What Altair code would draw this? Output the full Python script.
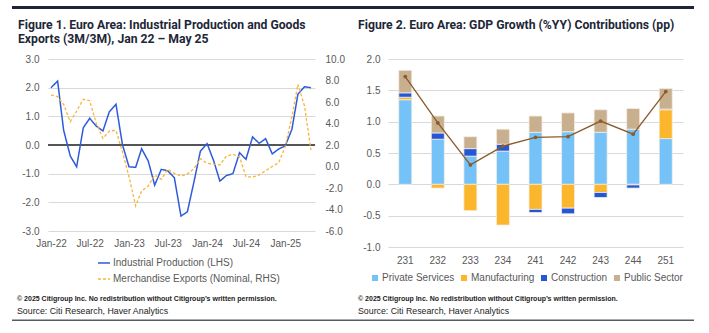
import altair as alt
import pandas as pd

# ---------------- data ----------------
months = pd.date_range("2022-01-01", "2025-05-01", freq="MS")

industrial_production = [
    2.0, 2.23, 0.52, -0.38, -0.76, 0.6, 0.93, 0.66, 0.49, 1.16, 1.42, 0.02,
    -0.76, -0.78, -0.13, -0.56, -1.4, -0.85, -0.9, -1.14, -2.48, -2.33, -1.28, -0.21,
    0.05, -0.55, -1.26, -1.06, -1.0, -0.27, -0.5, 0.28, 0.06, 0.22, -0.31, -0.14,
    -0.03, 0.55, 1.77, 2.03, 2.0,
]
merchandise_exports = [
    6.65, 6.5, 5.78, 4.17, 5.16, 6.25, 6.12, 4.0, 2.62, 3.3, 3.36, 1.38,
    -0.95, -3.67, -2.28, -1.81, -0.79, -1.19, -0.26, -0.64, -0.88, -0.7, -0.2, 0.73,
    0.29, 0.23, 0.14, 0.98, 1.13, 0.91, -0.95, -0.98, -0.79, -0.39, 0.0, 0.36,
    1.85, 4.64, 7.64, 5.63, 1.53,
]
IP_NAME = "Industrial Production (LHS)"
EX_NAME = "Merchandise Exports (Nominal, RHS)"

lhs_ticks = [-3, -2, -1, 0, 1, 2, 3]
rhs_ticks = [-6, -4, -2, 0, 2, 4, 6, 8, 10]
x_tick_dates = [(2022, 1), (2022, 7), (2023, 1), (2023, 7), (2024, 1), (2024, 7), (2025, 1)]

quarters = ["231", "232", "233", "234", "241", "242", "243", "244", "251"]
components = ["Private Services", "Manufacturing", "Construction", "Public Sector"]
private_services = [1.35, 0.72, 0.45, 0.53, 0.83, 0.84, 0.83, 0.88, 0.73]
manufacturing = [0.04, -0.06, -0.42, -0.65, -0.40, -0.38, -0.13, -0.01, 0.46]
construction = [0.07, 0.10, 0.12, 0.11, -0.05, -0.09, -0.08, -0.05, 0.01]
public_sector = [0.36, 0.27, 0.19, 0.24, 0.26, 0.30, 0.36, 0.33, 0.33]
gdp_growth = [1.72, 0.98, 0.31, 0.61, 0.75, 0.76, 1.01, 0.80, 1.48]
gdp_ticks = [-1.0, -0.5, 0.0, 0.5, 1.0, 1.5, 2.0]

TITLE1_A = "Figure 1. Euro Area: Industrial Production and Goods"
TITLE1_B = "Exports (3M/3M), Jan 22 \u2013 May 25"
TITLE2 = "Figure 2. Euro Area: GDP Growth (%YY) Contributions (pp)"
COPYRIGHT = "\u00a9 2025 Citigroup Inc. No redistribution without Citigroup\u2019s written permission."
SOURCE = "Source: Citi Research, Haver Analytics"

# ---------------- styles ----------------
FONT = "'Liberation Sans', Arial, sans-serif"
TITLE_FONT = "Roboto, 'Open Sans', sans-serif"
LABEL_COLOR = "#595959"
TITLE_COLOR = "#1d2738"
BLUE = "#2E5BDB"
ORANGE = "#F7B53B"
NEG_EXPR = "(datum.value < 0 ? '-' : '') + format(abs(datum.value), '.1f')"
LBL = 10


def text_layer(txt, x, y, size, weight="normal", color="#1a1a1a", font=FONT):
    return alt.Chart(pd.DataFrame({"t": [txt]})).mark_text(
        align="left", baseline="alphabetic", fontSize=size, fontWeight=weight,
        color=color, font=font
    ).encode(text="t:N", x=alt.value(x), y=alt.value(y))


def band(x1, x2, y1, y2, color):
    return alt.Chart(pd.DataFrame({"a": [0]})).mark_rect(color=color).encode(
        x=alt.value(x1), x2=alt.value(x2), y=alt.value(y1), y2=alt.value(y2)
    )


# ---------------- left panel ----------------
df_ip = pd.DataFrame({"month": months, "value": industrial_production, "series": IP_NAME})
df_ex = pd.DataFrame({"month": months, "value": merchandise_exports, "series": EX_NAME})

color_scale = alt.Scale(domain=[IP_NAME, EX_NAME], range=[BLUE, ORANGE])
dash_scale = alt.Scale(domain=[IP_NAME, EX_NAME], range=[[1, 0], [3, 2]])
legend_left = alt.Legend(
    title=None, orient="none", legendX=49, legendY=197, symbolType="stroke",
    symbolSize=144, symbolStrokeWidth=1.5, labelFont=FONT, labelFontSize=LBL,
    labelColor=LABEL_COLOR, labelOffset=2, rowPadding=4, labelLimit=300,
)

x_left = alt.X(
    "month:T",
    scale=alt.Scale(domain=[alt.DateTime(year=2021, month=12, date=18),
                            alt.DateTime(year=2025, month=5, date=20)]),
    axis=alt.Axis(title=None, values=[alt.DateTime(year=y, month=m, date=1) for y, m in x_tick_dates],
                  format="%b-%y", labelPadding=7, grid=False, labelOverlap=False),
)
y_lhs = alt.Y("value:Q", scale=alt.Scale(domain=[-3, 3], nice=False),
              axis=alt.Axis(title=None, orient="left", values=lhs_ticks, labelExpr=NEG_EXPR,
                            grid=True, labelPadding=9, labelOverlap=False))
y_rhs = alt.Y("value:Q", scale=alt.Scale(domain=[-6, 10], nice=False),
              axis=alt.Axis(title=None, orient="right", values=rhs_ticks, labelExpr=NEG_EXPR,
                            grid=False, labelPadding=10, labelOverlap=False))

zero_line = alt.Chart(pd.DataFrame({"value": [0]})).mark_rule(color="#555555", strokeWidth=2).encode(y=y_lhs)
ip_line = alt.Chart(df_ip).mark_line(strokeWidth=1.5).encode(
    x=x_left, y=y_lhs,
    color=alt.Color("series:N", scale=color_scale, legend=legend_left),
    strokeDash=alt.StrokeDash("series:N", scale=dash_scale, legend=legend_left),
)
ex_line = alt.Chart(df_ex).mark_line(strokeWidth=1.3).encode(
    x=x_left, y=y_rhs,
    color=alt.Color("series:N", scale=color_scale, legend=legend_left),
    strokeDash=alt.StrokeDash("series:N", scale=dash_scale, legend=legend_left),
)

left = alt.layer(
    band(-36, 304, -53, -50, "#1d2538"),
    band(-36, 304, 260.5, 262, "#555a64"),
    text_layer(TITLE1_A, -30, -30, 12.2, "bold", TITLE_COLOR, TITLE_FONT),
    text_layer(TITLE1_B, -30, -16, 12.2, "bold", TITLE_COLOR, TITLE_FONT),
    text_layer(COPYRIGHT, -31, 242, 7.0, "bold", "#222222"),
    text_layer(SOURCE, -31, 255, 8.8, "normal", "#222222"),
    alt.layer(zero_line, ip_line),
    ex_line,
).resolve_scale(y="independent").properties(width=267, height=172)

# ---------------- right panel ----------------
rows = []
for i, q in enumerate(quarters):
    for k, (name, vals) in enumerate(zip(components, [private_services, manufacturing, construction, public_sector])):
        rows.append({"quarter": q, "component": name, "value": vals[i], "k": k})
df_bars = pd.DataFrame(rows)
df_gdp = pd.DataFrame({"quarter": quarters, "value": gdp_growth})

legend_right = alt.Legend(
    title=None, orient="none", direction="horizontal", legendX=-18, legendY=214,
    symbolType="square", symbolSize=36, symbolStrokeWidth=0, labelFont=FONT,
    labelFontSize=LBL, labelColor=LABEL_COLOR, labelOffset=2, columnPadding=4, labelLimit=200,
)
x_right = alt.X("quarter:N", sort=quarters,
                scale=alt.Scale(paddingInner=0, paddingOuter=0.03),
                axis=alt.Axis(title=None, labelAngle=0, labelPadding=8, grid=False, labelOverlap=False))
right_scale = alt.Scale(domain=[-1, 2], nice=False)
right_axis = alt.Axis(title=None, values=gdp_ticks, labelExpr=NEG_EXPR, grid=True,
                      labelPadding=8, labelOverlap=False)

bars = alt.Chart(df_bars).mark_bar(size=13, stroke="#F4EEE4", strokeWidth=0.8).encode(
    x=x_right,
    y=alt.Y("value:Q", stack="zero", scale=right_scale, axis=right_axis),
    color=alt.Color("component:N", scale=alt.Scale(domain=components,
                    range=["#74C2F8", "#FBB62B", "#2456D6", "#C8AF8E"]), legend=legend_right),
    order=alt.Order("k:Q"),
)
gdp_line = alt.Chart(df_gdp).mark_line(color="#8B5A2B", strokeWidth=1.3).encode(
    x=x_right, y=alt.Y("value:Q", scale=right_scale, axis=right_axis))
gdp_pts = alt.Chart(df_gdp).mark_circle(color="#8B5A2B", size=14, opacity=1).encode(
    x=x_right, y=alt.Y("value:Q", scale=right_scale, axis=right_axis))

right = alt.layer(
    band(-36, 306, -53, -50, "#1d2538"),
    band(-36, 306, 260.5, 262, "#555a64"),
    text_layer(TITLE2, -30, -30, 12.2, "bold", TITLE_COLOR, TITLE_FONT),
    text_layer(COPYRIGHT, -30, 242, 7.0, "bold", "#222222"),
    text_layer(SOURCE, -30, 255, 8.8, "normal", "#222222"),
    bars, gdp_line, gdp_pts,
).properties(width=295, height=188)

chart = alt.hconcat(left, right, spacing=0).resolve_scale(
    color="independent", strokeDash="independent"
).resolve_legend(color="independent", strokeDash="independent").properties(
    padding={"left": 12, "top": 6, "right": 0, "bottom": 0}
).configure_view(stroke=None).configure_axis(
    domain=False, ticks=False, labelFont=FONT, labelFontSize=LBL, labelColor=LABEL_COLOR,
    gridColor="#D9D9D9", gridWidth=1.2, labelOverlap=False,
)

chart.save("out.html", embed_options={"renderer": "svg", "actions": False})
